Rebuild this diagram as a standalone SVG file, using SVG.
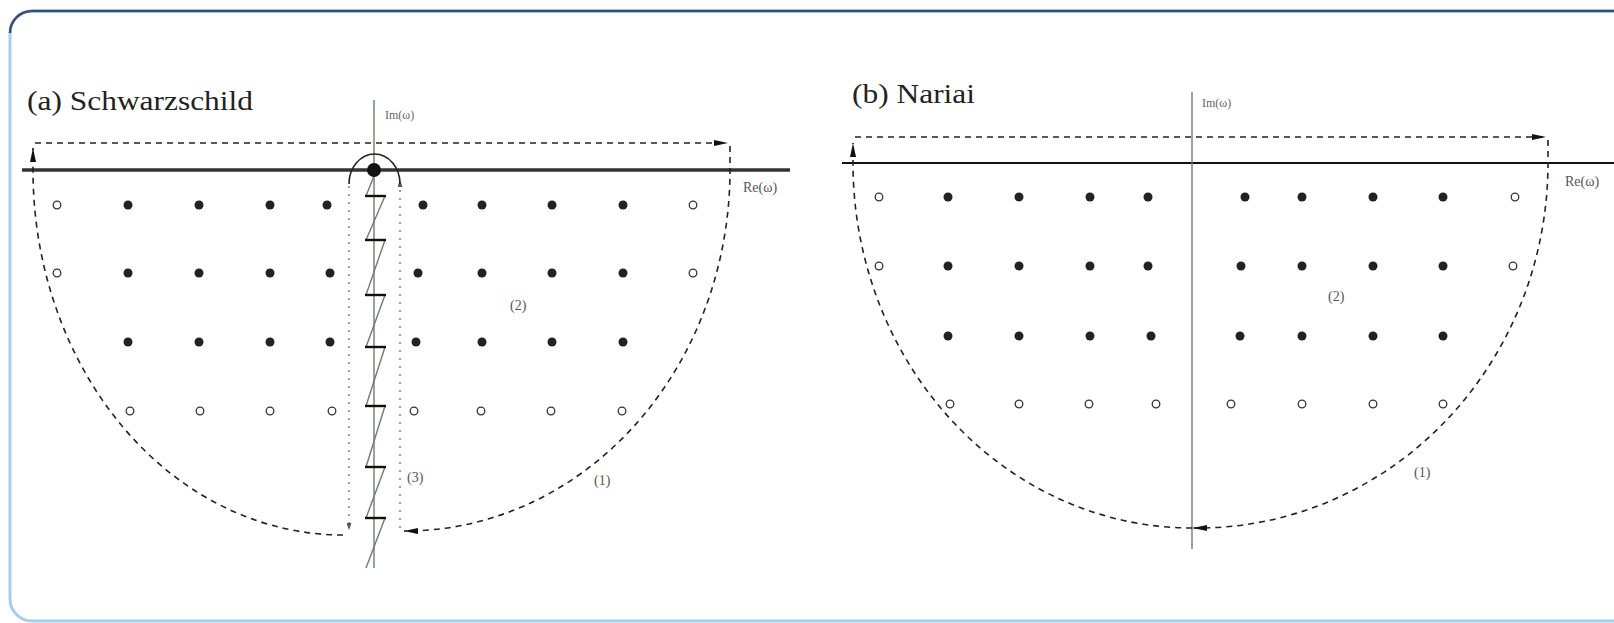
<svg xmlns="http://www.w3.org/2000/svg" width="1614" height="623" viewBox="0 0 1614 623">
<style>
.title{font-family:"Liberation Serif",serif;font-size:28px;fill:#222}
.lbl{font-family:"Liberation Serif",serif;font-size:14px;fill:#555}
.ax{font-family:"Liberation Serif",serif;font-size:12px;fill:#666}
.dash{fill:none;stroke:#222;stroke-width:1.6;stroke-dasharray:6 5}
.dot{fill:none;stroke:#888;stroke-width:1.6;stroke-dasharray:2 6}
.thin{fill:none;stroke:#6f7c6f;stroke-width:1.4}
.f{fill:#222}
.o{fill:#fff;stroke:#333;stroke-width:1.3}
.tick{stroke:#111;stroke-width:2.4}
</style>
<defs>
<marker id="arr" viewBox="0 0 14 6" refX="14" refY="3" markerWidth="14" markerHeight="6" markerUnits="userSpaceOnUse" orient="auto"><path d="M0,0 L14,3 L0,6 z" fill="#111"/></marker>
<marker id="sm" viewBox="0 0 7 5" refX="7" refY="2.5" markerWidth="7" markerHeight="5" markerUnits="userSpaceOnUse" orient="auto"><path d="M0,0 L7,2.5 L0,5 z" fill="#555"/></marker>
<g id="fd"><circle r="4.5" class="f"/></g>
<g id="od"><circle r="3.8" class="o"/></g>
</defs>
<rect x="0" y="0" width="1614" height="623" fill="#fff"/>
<g id="frame">
<rect x="10" y="11" width="1640" height="610" rx="22" ry="22" fill="none" stroke="#a6cdee" stroke-width="3"/>
<path d="M10,33 A22,22 0 0 1 32,11 L1614,11" fill="none" stroke="#34507a" stroke-width="2.5"/>
</g>

<g id="panel-a">
<text class="title" x="27" y="110" textLength="226" lengthAdjust="spacingAndGlyphs">(a) Schwarzschild</text>
<g id="a-axes">
<line x1="22" y1="170" x2="790" y2="170" stroke="#333" stroke-width="3.5"/>
<line x1="374" y1="100" x2="374" y2="568" class="thin"/>
<text class="ax" x="385" y="119">Im(ω)</text>
<text class="lbl" x="743" y="192">Re(ω)</text>
</g>
<g id="a-connectors">
<path class="dash" d="M343,535 A310,365 0 0 1 33,170 L33,148" marker-end="url(#arr)"/>
<path class="dash" d="M35,143 L728,143" marker-end="url(#arr)"/>
<path class="dash" d="M730,146 L730,170 A325,361 0 0 1 404,531" marker-end="url(#arr)"/>
<path class="dot" d="M400,528 L400,180" marker-end="url(#sm)"/>
<path class="dot" d="M349,186 L349,530" marker-end="url(#sm)"/>
<path d="M349,184 A25.5,30 0 0 1 400,184" fill="none" stroke="#222" stroke-width="1.6"/>
</g>
<g id="a-cut">
<path class="thin" d="M374,176 L366,196 M385,196 L366,240 M385,240 L366,295 M385,295 L366,347 M385,347 L366,406 M385,406 L366,467 M385,467 L366,518 M385,518 L366,568"/>
<g class="tick">
<line x1="365" y1="196" x2="386" y2="196"/>
<line x1="365" y1="240" x2="386" y2="240"/>
<line x1="365" y1="295" x2="386" y2="295"/>
<line x1="365" y1="347" x2="386" y2="347"/>
<line x1="365" y1="406" x2="386" y2="406"/>
<line x1="365" y1="467" x2="386" y2="467"/>
<line x1="365" y1="518" x2="386" y2="518"/>
</g>
<circle cx="374" cy="170" r="7" fill="#111"/>
</g>
<g id="a-poles">
<use href="#od" x="57" y="205"/><use href="#fd" x="128" y="205"/><use href="#fd" x="199" y="205"/><use href="#fd" x="270" y="205"/><use href="#fd" x="327" y="205"/>
<use href="#fd" x="423" y="205"/><use href="#fd" x="482" y="205"/><use href="#fd" x="552" y="205"/><use href="#fd" x="623" y="205"/><use href="#od" x="693" y="205"/>
<use href="#od" x="57" y="273"/><use href="#fd" x="128" y="273"/><use href="#fd" x="199" y="273"/><use href="#fd" x="270" y="273"/><use href="#fd" x="330" y="273"/>
<use href="#fd" x="418" y="273"/><use href="#fd" x="482" y="273"/><use href="#fd" x="552" y="273"/><use href="#fd" x="623" y="273"/><use href="#od" x="693" y="273"/>
<use href="#fd" x="128" y="342"/><use href="#fd" x="199" y="342"/><use href="#fd" x="270" y="342"/><use href="#fd" x="330" y="342"/>
<use href="#fd" x="416" y="342"/><use href="#fd" x="482" y="342"/><use href="#fd" x="552" y="342"/><use href="#fd" x="623" y="342"/>
<use href="#od" x="130" y="411"/><use href="#od" x="200" y="411"/><use href="#od" x="270" y="411"/><use href="#od" x="332" y="411"/>
<use href="#od" x="414" y="411"/><use href="#od" x="481" y="411"/><use href="#od" x="551" y="411"/><use href="#od" x="622" y="411"/>
</g>
<text class="lbl" x="510" y="310">(2)</text>
<text class="lbl" x="407" y="482">(3)</text>
<text class="lbl" x="594" y="485">(1)</text>
</g>

<g id="panel-b">
<text class="title" x="852" y="103" textLength="123" lengthAdjust="spacingAndGlyphs">(b) Nariai</text>
<g id="b-axes">
<line x1="842" y1="163" x2="1614" y2="163" stroke="#111" stroke-width="2"/>
<line x1="1192" y1="92" x2="1192" y2="549" class="thin"/>
<text class="ax" x="1202" y="107">Im(ω)</text>
<text class="lbl" x="1565" y="186">Re(ω)</text>
</g>
<g id="b-connectors">
<path class="dash" d="M1192,528 A339,365 0 0 1 853,163 L853,143" marker-end="url(#arr)"/>
<path class="dash" d="M855,137 L1546,137" marker-end="url(#arr)"/>
<path class="dash" d="M1548,140 L1548,163 A350,365 0 0 1 1198,528 L1193,528" marker-end="url(#arr)"/>
</g>
<g id="b-poles">
<use href="#od" x="879" y="197"/><use href="#fd" x="948" y="197"/><use href="#fd" x="1019" y="197"/><use href="#fd" x="1090" y="197"/><use href="#fd" x="1148" y="197"/>
<use href="#fd" x="1245" y="197"/><use href="#fd" x="1302" y="197"/><use href="#fd" x="1373" y="197"/><use href="#fd" x="1443" y="197"/><use href="#od" x="1515" y="197"/>
<use href="#od" x="879" y="266"/><use href="#fd" x="948" y="266"/><use href="#fd" x="1019" y="266"/><use href="#fd" x="1090" y="266"/><use href="#fd" x="1148" y="266"/>
<use href="#fd" x="1241" y="266"/><use href="#fd" x="1302" y="266"/><use href="#fd" x="1373" y="266"/><use href="#fd" x="1443" y="266"/><use href="#od" x="1513" y="266"/>
<use href="#fd" x="948" y="336"/><use href="#fd" x="1019" y="336"/><use href="#fd" x="1090" y="336"/><use href="#fd" x="1151" y="336"/>
<use href="#fd" x="1240" y="336"/><use href="#fd" x="1302" y="336"/><use href="#fd" x="1373" y="336"/><use href="#fd" x="1443" y="336"/>
<use href="#od" x="950" y="404"/><use href="#od" x="1019" y="404"/><use href="#od" x="1089" y="404"/><use href="#od" x="1156" y="404"/>
<use href="#od" x="1231" y="404"/><use href="#od" x="1302" y="404"/><use href="#od" x="1373" y="404"/><use href="#od" x="1443" y="404"/>
</g>
<text class="lbl" x="1328" y="301">(2)</text>
<text class="lbl" x="1414" y="477">(1)</text>
</g>
</svg>
